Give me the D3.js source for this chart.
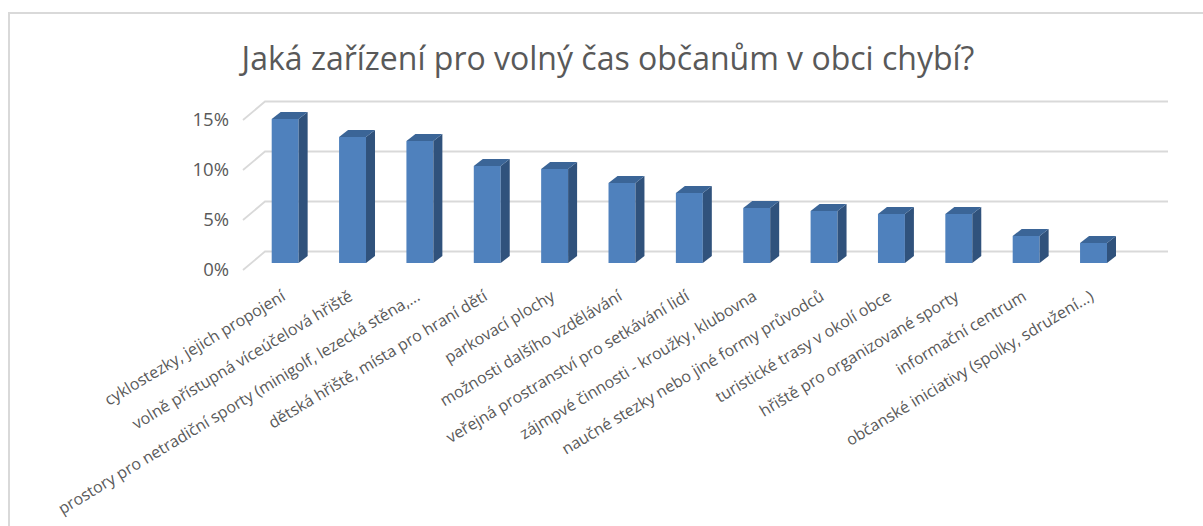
<!DOCTYPE html>
<html>
<head>
  <meta charset="utf-8">
  <title>Jaká zařízení chybí</title>
  <script src="https://d3js.org/d3.v7.min.js"></script>
  <style>
    body { margin: 0; background: #fff; }
    text { font-family: "Open Sans", "Noto Sans", sans-serif; fill: #595959; }
  </style>
</head>
<body>
<div id="chart"></div>
<script>

const title = "Jaká zařízení pro volný čas občanům v obci chybí?";

const categories = [
  "cyklostezky, jejich propojení",
  "volně přístupná víceúčelová hřiště",
  "prostory pro netradiční sporty (minigolf, lezecká stěna,...",
  "dětská hřiště, místa pro hraní dětí",
  "parkovací plochy",
  "možnosti dalšího vzdělávání",
  "veřejná prostranství pro setkávání lidí",
  "zájmpvé činnosti - kroužky, klubovna",
  "naučné stezky nebo jiné formy průvodců",
  "turistické trasy v okolí obce",
  "hřiště pro organizované sporty",
  "informační centrum",
  "občanské iniciativy (spolky, sdružení...)"
];

const values = [0.144, 0.126, 0.122, 0.097, 0.094, 0.080, 0.070, 0.055, 0.052, 0.049, 0.049, 0.027, 0.020];

const yTicks = [0, 0.05, 0.10, 0.15];

const width = 1203;
const height = 526;

// fake 3d: floor front / back edge, wall extent, bar depth
const floorFront = 270, floorBack = 251.5;
const wallLeft = 265, wallRight = 1168, floorDx = 22;
const barBase = 263, barDx = 9, barDy = 7;

var svg = d3.select("#chart").append("svg").attr("width", width).attr("height", height);

svg.append("rect").attr("width", width).attr("height", height).attr("fill", "#fff");

// outer frame (only top and left visible)
svg.append("path")
  .attr("d", "M9," + height + " V13 H" + width)
  .attr("fill", "none").attr("stroke", "#d9d9d9").attr("stroke-width", 2);

svg.append("text")
  .attr("x", 608).attr("y", 70)
  .attr("text-anchor", "middle")
  .style("font-size", "32px")
  .text(title);

var x = d3.scaleBand().domain(categories).range([271.7, 1107]).paddingInner(0.6).paddingOuter(0);
var h = d3.scaleLinear().domain([0, 0.15]).range([0, 150]);
var bw = x.bandwidth();

// gridlines: diagonal on the floor side + back wall line
svg.append("g")
  .selectAll("path")
  .data(yTicks)
  .enter().append("path")
  .attr("d", t => "M" + (wallLeft - floorDx) + "," + (floorFront - h(t)) +
                  " L" + wallLeft + "," + (floorBack - h(t)) +
                  " H" + wallRight)
  .attr("fill", "none").attr("stroke", "#d9d9d9").attr("stroke-width", 1.8);

svg.append("g")
  .selectAll("text")
  .data(yTicks)
  .enter().append("text")
  .attr("x", 229)
  .attr("y", t => floorFront - h(t))
  .attr("dy", "0.35em")
  .attr("text-anchor", "end")
  .style("font-size", "18.5px")
  .text(d3.format(".0%"));

var bars = svg.append("g")
  .selectAll("g")
  .data(categories)
  .enter().append("g");

bars.append("rect")
  .attr("x", d => x(d))
  .attr("y", (d, i) => barBase - h(values[i]))
  .attr("width", bw)
  .attr("height", (d, i) => h(values[i]))
  .attr("fill", "#4f81bd");

bars.append("polygon")
  .attr("points", (d, i) => {
    var x1 = x(d) + bw, top = barBase - h(values[i]);
    return [[x1, barBase], [x1 + barDx, barBase - barDy], [x1 + barDx, top - barDy], [x1, top]].join(" ");
  })
  .attr("fill", "#30527c");

bars.append("polygon")
  .attr("points", (d, i) => {
    var x0 = x(d), top = barBase - h(values[i]);
    return [[x0, top], [x0 + barDx, top - barDy], [x0 + bw + barDx, top - barDy], [x0 + bw, top]].join(" ");
  })
  .attr("fill", "#3b6597");

svg.append("g")
  .selectAll("text")
  .data(categories)
  .enter().append("text")
  .attr("transform", d => "translate(" + (x(d) + bw / 2 - 5) + ",289) rotate(-31)")
  .attr("dy", "0.75em")
  .attr("text-anchor", "end")
  .style("font-size", "16px")
  .text(d => d);

</script>
</body>
</html>
